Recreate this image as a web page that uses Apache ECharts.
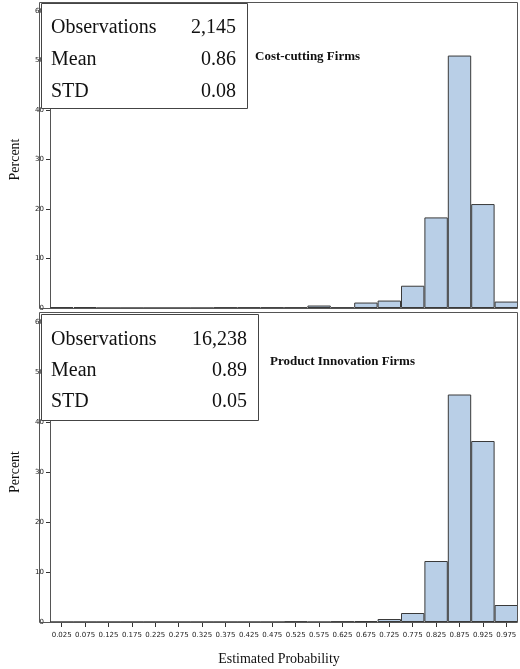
<!DOCTYPE html><html><head><meta charset="utf-8"><script src="https://cdn.jsdelivr.net/npm/echarts@6/dist/echarts.min.js"></script>
<style>body{margin:0}#c{width:520px;height:669px}</style></head><body><div id="c"></div><script>
const bins=['0.025','0.075','0.125','0.175','0.225','0.275','0.325','0.375','0.425','0.475','0.525','0.575','0.625','0.675','0.725','0.775','0.825','0.875','0.925','0.975'];
const costCutting=[0.2,0.2,0,0,0,0,0,0.1,0.1,0.1,0.1,0.5,0.1,1.1,1.5,4.5,18.3,51,21,1.3];
const productInnovation=[0,0,0,0,0,0,0,0,0,0,0.1,0,0.1,0.2,0.6,1.8,12.2,45.5,36.2,3.4];
const yTicks=[0,10,20,30,40,50,60];
const ch=echarts.init(document.getElementById('c'));
const serif='"Liberation Serif","DejaVu Serif",serif';
function xa(i,labels){return {type:'category',gridIndex:i,data:bins,boundaryGap:true,
 axisLine:{show:false},axisTick:{show:labels,alignWithLabel:true,length:5,lineStyle:{color:'#333'}},
 axisLabel:{show:labels,fontSize:7,color:'#222',margin:10,interval:0,fontFamily:'Verdana,"DejaVu Sans",sans-serif'}};}
function ya(i){return {type:'value',gridIndex:i,min:0,max:60,interval:10,splitLine:{show:false},
 axisLine:{show:true,lineStyle:{color:'#555'}},axisTick:{show:true,length:4,lineStyle:{color:'#333'}},
 axisLabel:{fontSize:7,color:'#222',margin:6,fontFamily:'Verdana,"DejaVu Sans",sans-serif'},
 name:'Percent',nameLocation:'middle',nameGap:28,nameTextStyle:{fontFamily:serif,fontSize:14,color:'#111'}};}
const bar={type:'bar',barWidth:'100%',barGap:'0%',itemStyle:{color:'#b9cfe7',borderColor:'#3a3a3a',borderWidth:1}};
function box(y,w,h,obs,mean,std,rows){
 const t=(txt,x,yy,align)=>({type:'text',x:x,y:yy,z:110,style:{text:txt,font:'20px '+serif,fill:'#111',textAlign:align||'left',textVerticalAlign:'middle'}});
 const r=41+w-11;
 return [{type:'rect',z:105,shape:{x:41.5,y:y+0.5,width:w,height:h},style:{fill:'#fff',stroke:'#444',lineWidth:1}},
  t('Observations',51,rows[0]),t(obs,r,rows[0],'right'),t('Mean',51,rows[1]),t(mean,r,rows[1],'right'),t('STD',51,rows[2]),t(std,r,rows[2],'right')];}
ch.setOption({animation:false,
 grid:[{left:39,right:2,top:11,height:297},{left:39,right:2,top:322,height:300}],
 xAxis:[xa(0,false),xa(1,true)],yAxis:[ya(0),ya(1)],
 series:[Object.assign({},bar,{xAxisIndex:0,yAxisIndex:0,data:costCutting}),Object.assign({},bar,{xAxisIndex:1,yAxisIndex:1,data:productInnovation})],
 graphic:[
  {type:'rect',shape:{x:39.5,y:2.5,width:478,height:306},style:{fill:'none',stroke:'#555',lineWidth:1},z:100},
  {type:'rect',shape:{x:39.5,y:312.5,width:478,height:310},style:{fill:'none',stroke:'#555',lineWidth:1},z:100},
  ...box(3,206,105,'2,145','0.86','0.08',[28,60,92]),...box(314,217,106,'16,238','0.89','0.05',[340,371,402]),
  {type:'text',x:255,y:57,style:{text:'Cost-cutting Firms',font:'bold 13px '+serif,fill:'#111',textVerticalAlign:'middle'}},
  {type:'text',x:270,y:362,style:{text:'Product Innovation Firms',font:'bold 13px '+serif,fill:'#111',textVerticalAlign:'middle'}},
  {type:'text',x:279,y:652,style:{text:'Estimated Probability',font:'14px '+serif,fill:'#111',textAlign:'center'}}
 ]});
</script></body></html>
